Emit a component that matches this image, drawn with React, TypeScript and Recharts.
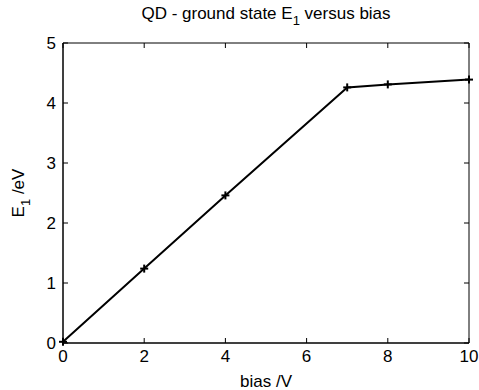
import React from "react";
import { LineChart, Line, XAxis, YAxis, ReferenceArea } from "recharts";

const biasValues = [0, 2, 4, 7, 8, 10];
const energyValues = [0.02, 1.24, 2.46, 4.26, 4.31, 4.39];
const xTicks = [0, 2, 4, 6, 8, 10];
const yTicks = [0, 1, 2, 3, 4, 5];

const data = biasValues.map((b, i) => ({ bias: b, e1: energyValues[i] }));

const W = 479;
const H = 390;
const M = { top: 43, right: 10, left: 0, bottom: 0 };
const Y_W = 63;
const X_H = 47;
const PLOT_W = W - M.left - M.right - Y_W;
const PLOT_H = H - M.top - M.bottom - X_H;
const TICK = 5;
const GAP = 6;
const FONT = "'Liberation Sans', Arial, sans-serif";
const FS = 17;
const TFS = 17;

const XTick = (props: any) => {
  const { x, y, payload } = props;
  const y0 = y - GAP;
  return (
    <g>
      <line x1={x} x2={x} y1={y0} y2={y0 - TICK} stroke="#000" />
      <line x1={x} x2={x} y1={y0 - PLOT_H} y2={y0 - PLOT_H + TICK} stroke="#000" />
      <text x={x} y={y} dy={13} textAnchor="middle" fontSize={FS} fontFamily={FONT} fill="#000">
        {payload.value}
      </text>
    </g>
  );
};

const YTick = (props: any) => {
  const { x, y, payload } = props;
  const x0 = x + GAP;
  return (
    <g>
      <line x1={x0} x2={x0 + TICK} y1={y} y2={y} stroke="#000" />
      <line x1={x0 + PLOT_W} x2={x0 + PLOT_W - TICK} y1={y} y2={y} stroke="#000" />
      <text x={x - 1} y={y} dy={6} textAnchor="end" fontSize={FS} fontFamily={FONT} fill="#000">
        {payload.value}
      </text>
    </g>
  );
};

const PlusDot = (props: any) => {
  const { cx, cy } = props;
  if (cx == null || cy == null) return null;
  const s = 4;
  return (
    <g>
      <line x1={cx - s} x2={cx + s} y1={cy} y2={cy} stroke="#000" strokeWidth={2} />
      <line x1={cx} x2={cx} y1={cy - s} y2={cy + s} stroke="#000" strokeWidth={2} />
    </g>
  );
};

export default function App() {
  const plotCx = M.left + Y_W + PLOT_W / 2;
  const plotCy = M.top + PLOT_H / 2;
  return (
    <div style={{ position: "absolute", left: 0, top: 0, width: W, height: H, background: "#fff" }}>
      <LineChart width={W} height={H} data={data} margin={M}>
        <text x={plotCx} y={19} textAnchor="middle" fontSize={TFS} fontFamily={FONT} fill="#000">
          QD - ground state E
          <tspan dy={6} fontSize={13}>1</tspan>
          <tspan dy={-6}> versus bias</tspan>
        </text>
        <text x={plotCx} y={387} textAnchor="middle" fontSize={FS} fontFamily={FONT} fill="#000">
          bias /V
        </text>
        <text
          x={0}
          y={0}
          transform={`translate(24, ${plotCy}) rotate(-90)`}
          textAnchor="middle"
          fontSize={FS}
          fontFamily={FONT}
          fill="#000"
        >
          E
          <tspan dy={6} fontSize={13}>1</tspan>
          <tspan dy={-6}> /eV</tspan>
        </text>
        <XAxis
          dataKey="bias"
          type="number"
          domain={[0, 10]}
          ticks={xTicks}
          height={X_H}
          tickSize={0}
          tickMargin={GAP}
          tick={<XTick />}
          axisLine={{ stroke: "#000" }}
          interval={0}
        />
        <YAxis
          type="number"
          domain={[0, 5]}
          ticks={yTicks}
          width={Y_W}
          tickSize={0}
          tickMargin={GAP}
          tick={<YTick />}
          axisLine={{ stroke: "#000" }}
          interval={0}
        />
        <ReferenceArea x1={0} x2={10} y1={0} y2={5} fill="none" stroke="#000" strokeWidth={1} ifOverflow="visible" />
        <Line
          dataKey="e1"
          stroke="#000"
          strokeWidth={2}
          dot={<PlusDot />}
          activeDot={false}
          isAnimationActive={false}
        />
      </LineChart>
    </div>
  );
}
